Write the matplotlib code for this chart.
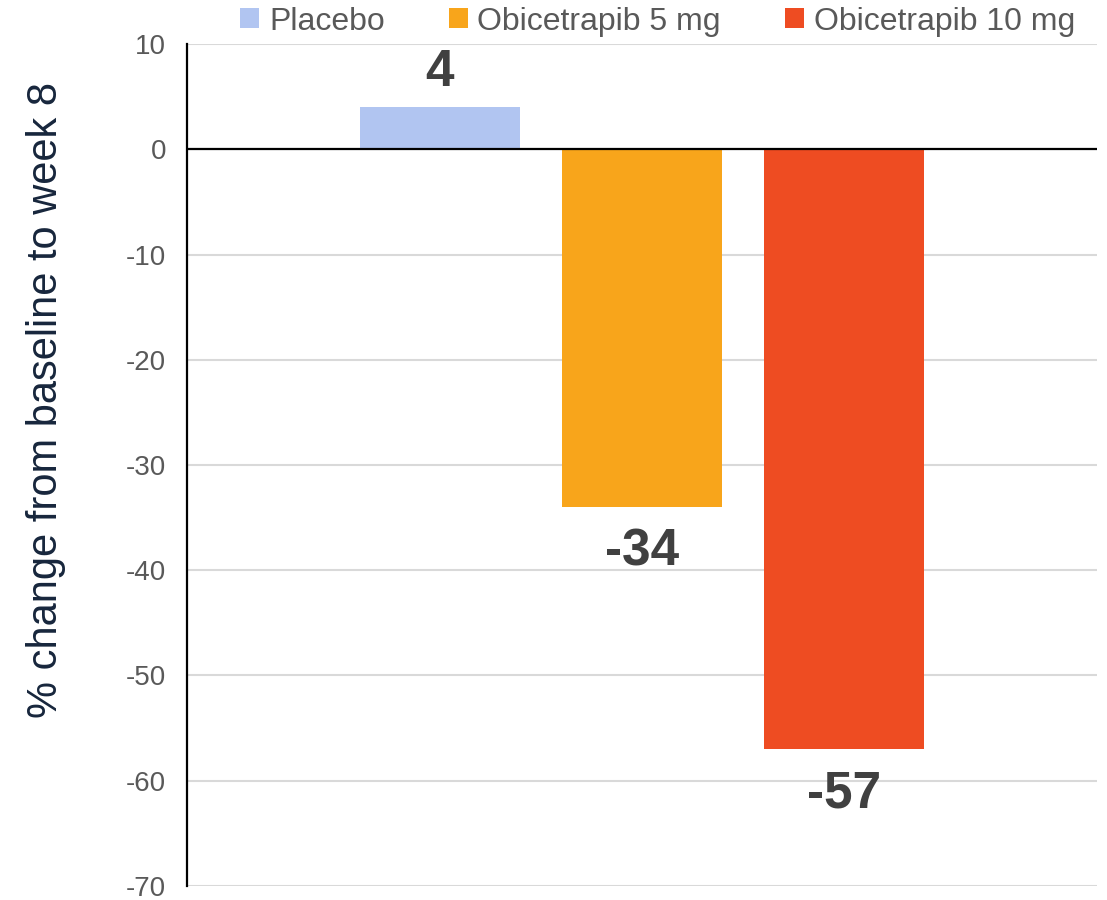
import matplotlib
matplotlib.use("Agg")
import matplotlib.pyplot as plt
from matplotlib.patches import Patch

plt.rcParams['font.family'] = ['Liberation Sans', 'DejaVu Sans']

groups = ["Placebo", "Obicetrapib 5 mg", "Obicetrapib 10 mg"]
pct_change = [4, -34, -57]
bar_colors = ["#B1C5F1", "#F8A51B", "#EE4C22"]
y_ticks = [10, 0, -10, -20, -30, -40, -50, -60, -70]

fig = plt.figure(figsize=(11.07, 9.0), dpi=100)
ax = fig.add_axes([0.1689, 0.01556, 0.991 - 0.1689, 0.9511 - 0.01556])

xpos = [-1, 0, 1]
bars = ax.bar(xpos, pct_change, width=0.79, color=bar_colors, zorder=3)

ax.set_xlim(-2.25, 2.25)
ax.set_ylim(-70, 10)
ax.set_yticks(y_ticks)
ax.set_yticklabels([str(t) for t in y_ticks])
ax.set_xticks([])
ax.tick_params(axis='y', length=0, pad=15, labelsize=20, labelcolor="#595959")

ax.grid(axis='y', color="#D9D9D9", linewidth=1.5, zorder=0)
ax.axhline(0, color="black", linewidth=1.6, zorder=4)
for side in ("top", "right", "bottom"):
    ax.spines[side].set_visible(False)
ax.spines["left"].set_color("black")
ax.spines["left"].set_linewidth(1.6)

ax.set_ylabel("% change from baseline to week 8", fontsize=30, color="#17263C")
ax.yaxis.set_label_coords(-0.133, 0.577)

for x, v in zip(xpos, pct_change):
    offset = 35 if v > 0 else -45
    ax.annotate(f"{v}", xy=(x, v), xytext=(0, offset), textcoords="offset pixels",
                ha="center", va="center", fontsize=37, fontweight="bold",
                color="#404040")

handles = [Patch(facecolor=c, edgecolor="none") for c in bar_colors]
fig.legend(handles, groups, loc="center", bbox_to_anchor=(0.594, 0.976), ncol=3,
           frameon=False, fontsize=23, labelcolor="#595959",
           handlelength=0.6, handleheight=0.6, handletextpad=0.3,
           columnspacing=2.0)

fig.savefig("out.png", dpi=100)
